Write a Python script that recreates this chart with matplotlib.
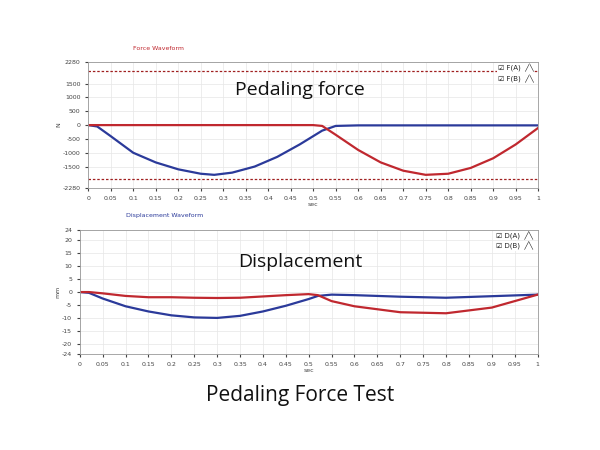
import matplotlib
matplotlib.use("Agg")
import matplotlib.pyplot as plt
import numpy as np

t_fa = [0, 0.02, 0.05, 0.1, 0.15, 0.2, 0.25, 0.28, 0.32, 0.37, 0.42, 0.47, 0.52, 0.55, 0.6, 0.7, 0.8, 0.9, 1.0]
f_a = [0, -50, -400, -1000, -1350, -1600, -1760, -1800, -1720, -1500, -1150, -700, -200, -30, -10, -10, -10, -10, -10]
t_fb = [0, 0.1, 0.2, 0.3, 0.4, 0.5, 0.52, 0.55, 0.6, 0.65, 0.7, 0.75, 0.8, 0.85, 0.9, 0.95, 1.0]
f_b = [0, 0, 0, 0, 0, 0, -30, -350, -900, -1350, -1650, -1800, -1760, -1550, -1200, -700, -100]
limit = 1950

t_d = [0, 0.02, 0.05, 0.1, 0.15, 0.2, 0.25, 0.3, 0.35, 0.4, 0.45, 0.5, 0.52, 0.55, 0.6, 0.7, 0.8, 0.9, 1.0]
d_a = [0, -0.3, -2.5, -5.5, -7.5, -9, -9.8, -10, -9.2, -7.5, -5.3, -2.7, -1.5, -1, -1.2, -1.8, -2.2, -1.6, -1]
d_b = [0, 0, -0.5, -1.5, -2, -2, -2.2, -2.3, -2.2, -1.7, -1.2, -0.8, -1.2, -3.5, -5.5, -7.8, -8.2, -6, -1]

force_ticks = [-2280, -1500, -1000, -500, 0, 500, 1000, 1500, 2280]
disp_ticks = [-24, -20, -15, -10, -5, 0, 5, 10, 15, 20, 24]
x_ticks = np.round(np.arange(0, 1.0001, 0.05), 2)

BLUE = "#2b3a9a"
RED = "#c0282f"

fig = plt.figure(figsize=(6, 4.5), dpi=100)

def style(ax, yt, ylim, ylabel, title, legend):
    ax.set_xlim(0, 1)
    ax.set_ylim(*ylim)
    ax.set_yticks(yt)
    ax.set_yticklabels([str(v) for v in yt])
    ax.set_xticks(x_ticks)
    ax.set_xticklabels(["0" if v == 0 else ("1" if v == 1 else f"{v:g}") for v in x_ticks])
    ax.tick_params(labelsize=4.5, length=2, colors="#444444")
    ax.grid(True, color="#e6e6e6", lw=0.5)
    for s in ax.spines.values():
        s.set_color("#999999"); s.set_linewidth(0.6)
    ax.set_xlabel("sec", fontsize=4.5, labelpad=1, color="#444444")
    ax.set_ylabel(ylabel, fontsize=4.5, labelpad=1, color="#444444")
    ax.set_title(title, fontsize=4.5, loc="left", x=0.1, pad=9, color=RED if "Force" in title else BLUE)
    for i, lab in enumerate(legend):
        ax.text(0.99, 0.955 - i * 0.085, "\u2611 " + lab + "  \u2571\u2572", transform=ax.transAxes,
                fontsize=5, ha="right", va="center", color="#222222", family="DejaVu Sans",
                bbox=dict(facecolor="white", edgecolor="none", pad=0.5))

ax1 = fig.add_axes([0.147, 0.582, 0.75, 0.28])
ax1.plot(t_fa, f_a, color=BLUE, lw=1.6)
ax1.plot(t_fb, f_b, color=RED, lw=1.6)
ax1.axhline(limit, color="#a02020", ls=(0, (2, 1.5)), lw=0.9)
ax1.axhline(-limit, color="#a02020", ls=(0, (2, 1.5)), lw=0.9)
style(ax1, force_ticks, (-2280, 2280), "N", "Force Waveform", ["F(A)", "F(B)"])

ax2 = fig.add_axes([0.133, 0.213, 0.763, 0.276])
ax2.plot(t_d, d_a, color=BLUE, lw=1.6)
ax2.plot(t_d, d_b, color=RED, lw=1.6)
style(ax2, disp_ticks, (-24, 24), "mm", "Displacement Waveform", ["D(A)", "D(B)"])

fig.text(0.5, 0.80, "Pedaling force", ha="center", va="center", fontsize=14, family="Open Sans", color="#111111")
fig.text(0.5, 0.418, "Displacement", ha="center", va="center", fontsize=14, family="Open Sans", color="#111111")
fig.text(0.5, 0.12, "Pedaling Force Test", ha="center", va="center", fontsize=15, family="Open Sans", color="#111111")

fig.savefig("out.png", dpi=100)
